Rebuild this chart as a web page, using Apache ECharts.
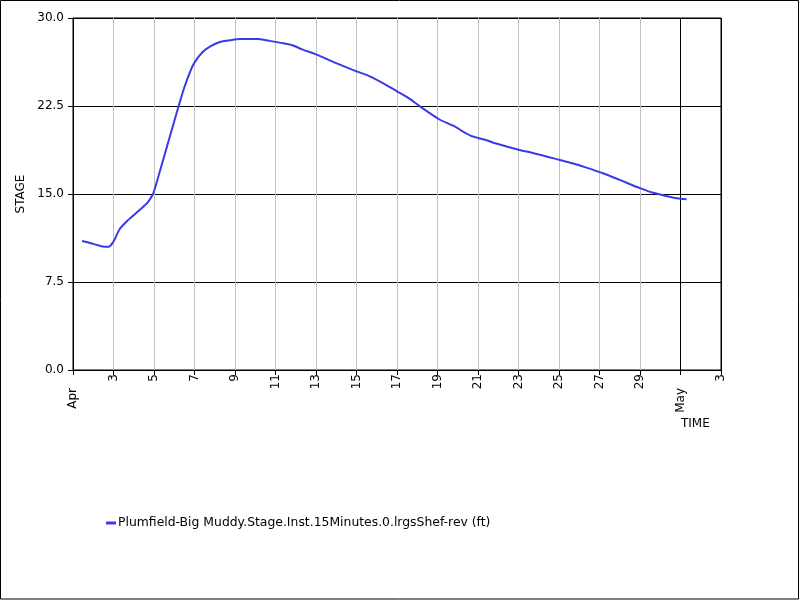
<!DOCTYPE html>
<html>
<head>
<meta charset="utf-8">
<title>STAGE</title>
<script src="https://cdn.jsdelivr.net/npm/echarts@6/dist/echarts.min.js"></script>
<style>
  body { margin: 0; background: #fff; }
  #main { width: 800px; height: 600px; }
</style>
</head>
<body>
<div id="main"></div>
<script type="text/javascript">
// days since Apr 1 00:00 and stage in ft
var days = [0.45, 0.8, 1.2, 1.55, 1.75, 2.0, 2.3, 2.7, 3.3, 3.7, 3.95, 4.05, 4.3, 4.6, 5.0, 5.2, 5.5, 5.8, 6.0, 6.4, 6.8, 7.25, 7.75, 8.25, 9.1, 9.7, 10.2, 10.8, 11.35, 12.0, 13.0, 14.0, 14.5, 15.3, 16.0, 16.5, 17.15, 18.1, 18.8, 19.6, 20.4, 20.9, 22.05, 22.7, 24.05, 24.7, 25.35, 26.2, 27.0, 28.0, 28.65, 29.5, 30.0, 30.3];
var stage = [11.0, 10.85, 10.65, 10.5, 10.5, 10.95, 12.0, 12.75, 13.65, 14.3, 15.0, 15.5, 17.0, 18.8, 21.2, 22.4, 24.1, 25.5, 26.2, 27.1, 27.6, 27.95, 28.1, 28.2, 28.2, 28.05, 27.9, 27.7, 27.3, 26.9, 26.15, 25.45, 25.15, 24.45, 23.75, 23.25, 22.45, 21.35, 20.8, 20.0, 19.6, 19.3, 18.75, 18.5, 17.9, 17.6, 17.25, 16.75, 16.2, 15.5, 15.1, 14.75, 14.6, 14.55];
var seriesName = 'Plumfield-Big Muddy.Stage.Inst.15Minutes.0.lrgsShef-rev (ft)';
var yTicks = [0, 7.5, 15, 22.5, 30];

var points = days.map(function (d, i) { return [d, stage[i]]; });

// gray day lines, black one on May 1
var vLineColors = [];
for (var i = 0; i <= 16; i++) vLineColors.push(i >= 15 ? '#000' : '#c0c0c0');

var font = 'DejaVu Sans';
var myChart = echarts.init(document.getElementById('main'));
var option = {
  animation: false,
  backgroundColor: '#fff',
  textStyle: { fontFamily: font },
  grid: { left: 73, right: 79, top: 18, bottom: 230, show: true, borderColor: '#000', borderWidth: 1 },
  legend: {
    left: 101, top: 512,
    icon: 'rect', itemWidth: 10, itemHeight: 3,
    textStyle: { fontFamily: font, fontSize: 12.4, color: '#000', padding: [0, 0, 0, -3] },
    data: [seriesName]
  },
  xAxis: {
    type: 'value', min: 0, max: 32, interval: 2,
    axisLine: { lineStyle: { color: '#000' } },
    axisTick: { length: 5, lineStyle: { color: '#000' } },
    axisLabel: {
      rotate: 90, color: '#000', fontSize: 12, margin: 4,
      formatter: function (v) {
        // month names sit on a lower row
        if (v === 0) return '{m|Apr}';
        if (v === 30) return '{m|May}';
        if (v > 30) return String(v - 30 + 1);
        return String(v + 1);
      },
      rich: { m: { fontSize: 12, color: '#000', padding: [0, 14, 0, 0] } }
    },
    splitLine: { show: true, lineStyle: { color: vLineColors, width: 1 } }
  },
  yAxis: {
    type: 'value', min: yTicks[0], max: yTicks[yTicks.length - 1], interval: 7.5,
    name: 'STAGE', nameLocation: 'middle', nameGap: 44,
    nameTextStyle: { color: '#000', fontSize: 12 },
    axisLine: { show: true, lineStyle: { color: '#000' } },
    axisTick: { show: true, length: 5, lineStyle: { color: '#000' } },
    axisLabel: { color: '#000', fontSize: 12, margin: 9, formatter: function (v) { return v.toFixed(1); } },
    splitLine: { show: true, lineStyle: { color: '#000', width: 1 } }
  },
  graphic: [
    { type: 'text', left: 681, top: 418, style: { text: 'TIME', font: '12px "DejaVu Sans"', fill: '#000' } },
    { type: 'rect', shape: { x: 0.5, y: 0.5, width: 798, height: 598.5 }, style: { fill: 'none', stroke: '#000', lineWidth: 1 }, silent: true }
  ],
  series: [{
    name: seriesName,
    type: 'line',
    data: points,
    showSymbol: false,
    smooth: 0.3,
    lineStyle: { color: '#3a3ae6', width: 2 },
    itemStyle: { color: '#3a3ae6' }
  }]
};
myChart.setOption(option);
</script>
</body>
</html>
